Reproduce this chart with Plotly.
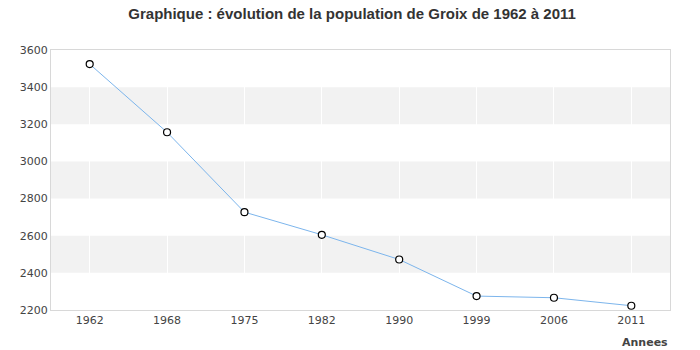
import plotly.graph_objects as go

years = ["1962", "1968", "1975", "1982", "1990", "1999", "2006", "2011"]
population = [3524, 3157, 2727, 2605, 2472, 2275, 2266, 2223]
y_ticks = [2200, 2400, 2600, 2800, 3000, 3200, 3400, 3600]
bands = [(2400, 2600), (2800, 3000), (3200, 3400)]

fig = go.Figure()
fig.add_trace(go.Scatter(
    x=years, y=population, mode="lines+markers",
    line=dict(color="#7cb5ec", width=1),
    marker=dict(size=7, color="white", line=dict(color="black", width=1.2)),
    hoverinfo="x+y",
))

for lo, hi in bands:
    fig.add_shape(type="rect", xref="paper", yref="y", x0=0, x1=1, y0=lo, y1=hi,
                  fillcolor="#f2f2f2", line=dict(width=0), layer="below")

fig.update_layout(
    width=700, height=350,
    margin=dict(l=51, r=30, t=50, b=40),
    paper_bgcolor="white", plot_bgcolor="white",
    showlegend=False,
    font=dict(family="DejaVu Sans", size=11, color="#444"),
    title=dict(text="<b>Graphique : évolution de la population de Groix de 1962 à 2011</b>",
               x=0.503, xanchor="center", y=0.96, yanchor="middle",
               font=dict(family="Liberation Sans, Arial", size=15, color="#333")),
    xaxis=dict(type="category", range=[-0.5, 7.5], showgrid=True, gridcolor="white",
               gridwidth=1, showline=True, linecolor="#d8d8d8", linewidth=1, mirror=True,
               ticks="", tickfont=dict(size=11, color="#444"), fixedrange=True),
    yaxis=dict(range=[2200, 3600], tickvals=y_ticks, showgrid=False, zeroline=False,
               showline=True, linecolor="#d8d8d8", linewidth=1, mirror=True,
               ticks="", ticklen=0, tickfont=dict(size=11, color="#444"), fixedrange=True),
    annotations=[dict(text="<b>Annees</b>", xref="paper", yref="paper", x=1.0,
                      y=-0.125, xanchor="right", yanchor="middle", showarrow=False,
                      font=dict(family="DejaVu Sans", size=11, color="#444"))],
)

fig.write_html("out.html")
